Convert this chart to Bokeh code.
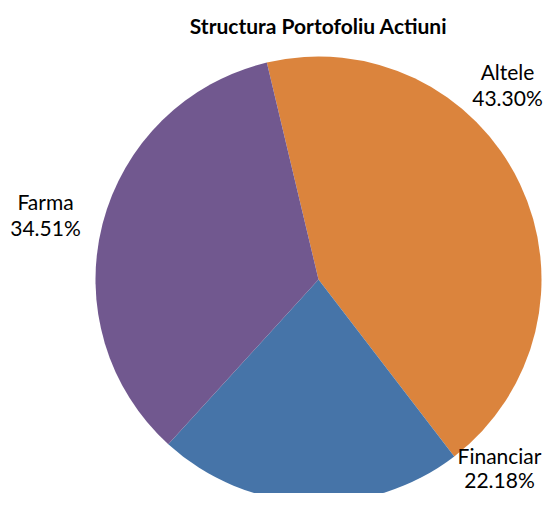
import math
from bokeh.plotting import figure
from bokeh.models import Range1d, ColumnDataSource
from bokeh.core.properties import value
from bokeh.embed import file_html
from bokeh.resources import INLINE

# data
categories = ["Altele", "Financiar", "Farma"]
shares = [43.30, 22.18, 34.51]
pct_labels = ["43.30%", "22.18%", "34.51%"]
colors = ["#DB843D", "#4674A8", "#71588F"]
title_text = "Structura Portofoliu Actiuni"

# layout (canvas pixels, y measured upward in data space)
W, H = 543, 493
def py(y_page):
    return H - y_page

cx, cy, r = 318, py(279), 223
start_deg = 103.4  # first slice starts slightly left of top, goes clockwise

total = sum(shares)
starts, ends = [], []
a = math.radians(start_deg)
for v in shares:
    starts.append(a)
    a = a - v / total * 2 * math.pi
    ends.append(a)

p = figure(width=W, height=H, output_backend="svg", toolbar_location=None,
           x_range=Range1d(0, W), y_range=Range1d(0, H),
           min_border=0)
p.axis.visible = False
p.grid.visible = False
p.outline_line_color = None
p.background_fill_color = "white"

src = ColumnDataSource(dict(start=starts, end=ends, color=colors, name=categories))
p.wedge(x=cx, y=cy, radius=r, start_angle="start", end_angle="end",
        direction="clock", fill_color="color", line_color=None, source=src)

# label anchors (canvas coords): name line, percent line
label_x = [507, 499, 45]
label_y1 = [71, 455, 201]
label_y2 = [97, 479, 227]

lab = ColumnDataSource(dict(x=label_x, y1=[py(v) for v in label_y1],
                            y2=[py(v) for v in label_y2],
                            name=categories, pct=pct_labels))
p.text(x="x", y="y1", text="name", source=lab, text_align="center",
       text_baseline="middle", text_font=value("Lato"), text_font_size="21px",
       text_color="#000000")
p.text(x="x", y="y2", text="pct", source=lab, text_align="center",
       text_baseline="middle", text_font=value("Lato"), text_font_size="21px",
       text_color="#000000")

p.text(x=[318], y=[py(25)], text=[title_text], text_align="center",
       text_baseline="middle", text_font=value("Lato"), text_font_size="21px",
       text_font_style="bold", text_color="#000000")

open("out.html", "w").write(file_html(p, INLINE))
